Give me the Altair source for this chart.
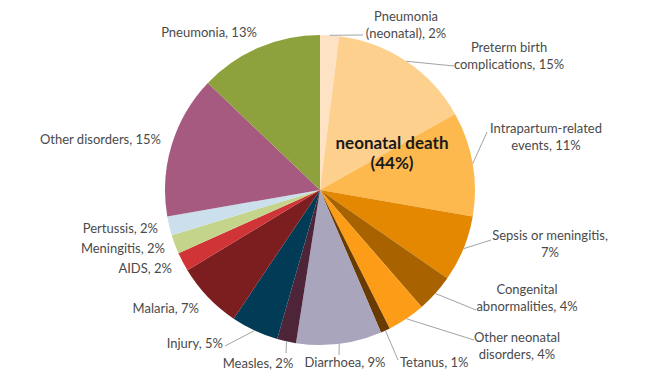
import math
import altair as alt
import pandas as pd

# ---- data ----
categories = [
    "Pneumonia (neonatal)", "Preterm birth complications", "Intrapartum-related events",
    "Sepsis or meningitis", "Congenital abnormalities", "Other neonatal disorders",
    "Tetanus", "Diarrhoea", "Measles", "Injury", "Malaria", "AIDS", "Meningitis",
    "Pertussis", "Other disorders", "Pneumonia",
]
values = [2, 15, 11, 7, 4, 4, 1, 9, 2, 5, 7, 2, 2, 2, 15, 13]
labels = [
    "Pneumonia\n(neonatal), 2%", "Preterm birth\ncomplications, 15%",
    "Intrapartum-related\nevents, 11%", "Sepsis or meningitis,\n7%",
    "Congenital\nabnormalities, 4%", "Other neonatal\ndisorders, 4%",
    "Tetanus, 1%", "Diarrhoea, 9%", "Measles, 2%", "Injury, 5%", "Malaria, 7%",
    "AIDS, 2%", "Meningitis, 2%", "Pertussis, 2%", "Other disorders, 15%", "Pneumonia, 13%",
]
colors = [
    "#FDE2C3", "#FDD08D", "#FDB84E", "#E38800", "#A86300", "#FD9D17",
    "#6A3B00", "#A9A5BC", "#4E2438", "#023B56", "#7C1E1F", "#D13436",
    "#C4D58B", "#CBE0EC", "#A65A80", "#8DA23C",
]
center_text = "neonatal death\n(44%)"

# ---- layout (page pixels) ----
M = 8
CX, CY, R = 320, 190, 155
label_pos = [  # (x, y of first line, align)
    (406, 17, "center"), (509, 48, "center"), (546, 129, "center"), (550, 236, "center"),
    (527, 290, "center"), (517, 338, "center"), (400, 363, "left"), (345, 363, "center"),
    (258, 364, "center"), (223, 344, "right"), (199, 309, "right"), (172, 269, "right"),
    (165, 249, "right"), (158, 229, "right"), (161, 140, "right"), (209, 33, "center"),
]
leader_end = [
    (363, 35), (454, 66), (487, 132), (491, 240), (476, 310), (474, 340),
    (398, 360), (339, 355), (286, 353), (225, 346), None, None, None, None, None, None,
]

total = sum(values)
df = pd.DataFrame({"cat": categories, "value": values, "idx": list(range(len(values)))})

lab_rows, lead_rows = [], []
cum = 0
for i, v in enumerate(values):
    a = 2 * math.pi * (cum + v / 2) / total
    cum += v
    x, y, al = label_pos[i]
    lab_rows.append({"label": labels[i], "x": x - M, "y": y - M, "align": al})
    if leader_end[i] is not None:
        sx = CX + R * math.sin(a)
        sy = CY - R * math.cos(a)
        ex, ey = leader_end[i]
        lead_rows.append({"x": sx - M, "y": sy - M, "x2": ex - M, "y2": ey - M})
labdf = pd.DataFrame(lab_rows)
leaddf = pd.DataFrame(lead_rows)

pie = alt.Chart(df).mark_arc(outerRadius=R, stroke=None).encode(
    theta=alt.Theta("value:Q", stack=True),
    color=alt.Color("cat:N", scale=alt.Scale(domain=categories, range=colors), legend=None),
    order=alt.Order("idx:Q"),
    x=alt.value(CX - M),
    y=alt.value(CY - M),
)

leaders = alt.Chart(leaddf).mark_rule(color="#a3a3a3", strokeWidth=1).encode(
    x=alt.X("x:Q", scale=None, axis=None),
    y=alt.Y("y:Q", scale=None, axis=None),
    x2="x2:Q",
    y2="y2:Q",
)

font = "Lato"
text_layers = []
for al in ["left", "center", "right"]:
    t = alt.Chart(labdf).transform_filter(alt.datum.align == al).mark_text(
        align=al, baseline="middle", font=font, fontSize=13, color="#4a4a4a",
        lineBreak="\n", lineHeight=17,
    ).encode(
        x=alt.X("x:Q", scale=None, axis=None),
        y=alt.Y("y:Q", scale=None, axis=None),
        text="label:N",
    )
    text_layers.append(t)

ctr = alt.Chart(pd.DataFrame({"t": [center_text]})).mark_text(
    align="center", baseline="middle", font=font, fontSize=17, fontWeight="bold",
    color="#1a1a1a", lineBreak="\n", lineHeight=20,
).encode(x=alt.value(392 - M), y=alt.value(144 - M), text="t:N")

chart = alt.layer(pie, leaders, *text_layers, ctr).properties(
    width=632, height=363, padding=0
).configure_view(stroke=None)

chart.save("out.html", embed_options={"renderer": "svg", "actions": False})
